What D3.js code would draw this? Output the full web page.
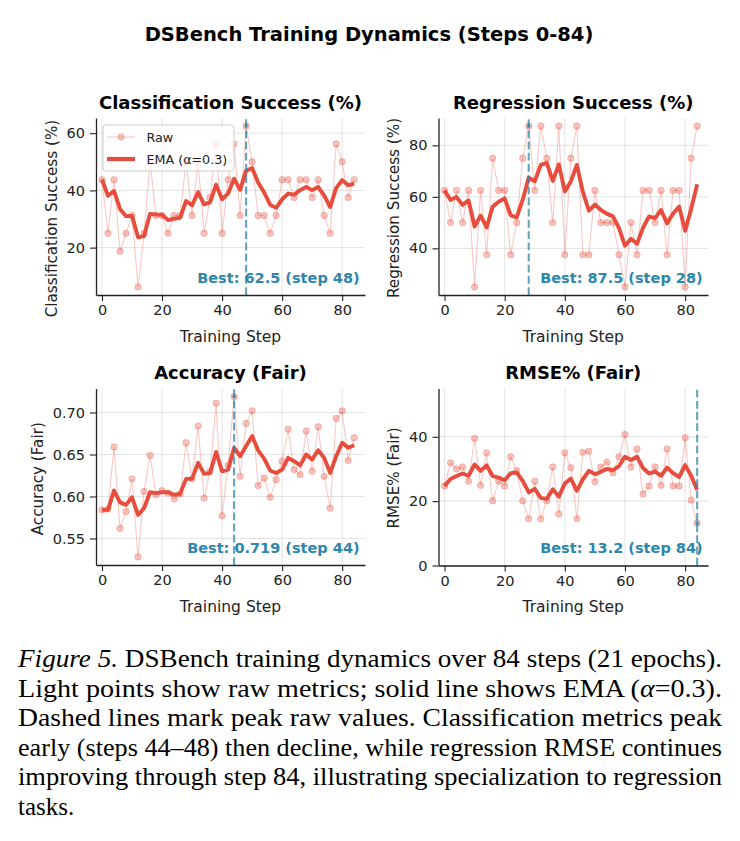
<!DOCTYPE html>
<html>
<head>
<meta charset="utf-8">
<script src="https://cdn.jsdelivr.net/npm/d3@7"></script>
<style>
  body { margin: 0; background: #fff; }
  svg text { font-family: "DejaVu Sans", sans-serif; }
</style>
</head>
<body>
<svg id="fig" width="740" height="841"></svg>
<script>
// ---- data ----
const steps = [0,2,4,6,8,10,12,14,16,18,20,22,24,26,28,30,32,34,36,38,40,42,
               44,46,48,50,52,54,56,58,60,62,64,66,68,70,72,74,76,78,80,82,84];

const clsRaw = [43.75,25,43.75,18.75,25,31.25,6.25,25,50,31.25,31.25,25,31.25,31.25,50,31.25,
                50,25,37.5,56.25,25,43.75,56.25,31.25,62.5,50,31.25,31.25,25,31.25,43.75,43.75,
                37.5,43.75,43.75,37.5,43.75,31.25,25,56.25,50,37.5,43.75];
const clsEma = [43.8,38.1,39.8,33.5,31.0,31.1,23.6,24.0,31.8,31.6,31.5,29.6,30.1,30.4,36.3,34.8,
                39.4,35.1,35.8,42.0,36.9,38.9,44.1,40.2,46.9,47.8,42.8,39.3,35.0,33.9,36.9,38.9,
                38.5,40.1,41.2,40.1,41.2,38.2,34.2,40.8,43.6,41.8,42.4];

const regRaw = [62.5,50,62.5,50,62.5,25,62.5,37.5,75,62.5,62.5,37.5,50,75,87.5,62.5,87.5,75,50,
                87.5,37.5,75,87.5,37.5,37.5,62.5,50,50,50,37.5,25,50,37.5,62.5,62.5,50,62.5,37.5,
                62.5,62.5,25,75,87.5];
const regEma = [62.5,58.8,59.9,56.9,58.6,48.5,52.7,48.1,56.2,58.1,59.4,52.8,52.0,58.9,67.5,66.0,
                72.4,73.2,66.2,72.6,62.1,66.0,72.4,61.9,54.6,57.0,54.9,53.4,52.4,47.9,41.0,43.7,
                41.8,48.0,52.4,51.7,54.9,49.7,53.5,56.2,46.8,55.3,64.9];

const accRaw = [0.584,0.585,0.659,0.562,0.582,0.621,0.528,0.606,0.649,0.602,0.607,0.604,0.597,
                0.603,0.664,0.621,0.684,0.598,0.630,0.711,0.577,0.637,0.719,0.624,0.687,0.702,
                0.613,0.622,0.599,0.620,0.642,0.680,0.632,0.626,0.678,0.630,0.683,0.624,0.586,
                0.693,0.702,0.643,0.670];
const accEma = [0.584,0.584,0.607,0.593,0.590,0.599,0.578,0.586,0.605,0.604,0.605,0.605,0.602,
                0.603,0.621,0.621,0.640,0.627,0.628,0.653,0.630,0.632,0.658,0.648,0.660,0.672,
                0.655,0.645,0.631,0.628,0.632,0.646,0.642,0.637,0.650,0.644,0.655,0.646,0.628,
                0.648,0.664,0.658,0.661];

const rmseRaw = [24.7,31.9,30.0,30.6,26.2,39.5,24.9,35.0,20.1,26.2,24.7,33.8,29.5,20.1,14.5,26.2,
                 14.5,20.1,30.6,16.0,35.0,30.4,14.5,35.2,35.5,26.0,30.6,32.1,28.8,33.8,40.7,30.6,
                 36.2,22.2,24.7,30.6,24.9,36.2,24.7,24.7,39.7,20.3,13.2];
const rmseEma = [24.7,26.9,27.8,28.6,27.9,31.4,29.4,31.1,27.8,27.3,26.5,28.7,28.9,26.3,22.7,23.8,
                 21.0,20.7,23.7,21.4,25.5,27.0,23.2,26.8,29.4,28.4,29.1,30.0,29.6,30.9,33.8,32.8,
                 33.8,30.3,28.6,29.2,27.9,30.4,28.7,27.5,31.2,27.9,23.5];

const panelTitles = ["Classification Success (%)", "Regression Success (%)", "Accuracy (Fair)", "RMSE% (Fair)"];
const yLabels = ["Classification Success (%)", "Regression Success (%)", "Accuracy (Fair)", "RMSE% (Fair)"];
const bestSteps = [48, 28, 44, 84];
const bestLabels = ["62.5", "87.5", "0.719", "13.2"];
const bestValues = [62.5, 87.5, 0.719, 13.2];
const xTicks = [0, 20, 40, 60, 80];
const yTickSets = [[20, 40, 60], [40, 60, 80], [0.55, 0.60, 0.65, 0.70], [0, 20, 40]];
const yDomains = [[3.44, 65.31], [21.875, 90.625], [0.5184, 0.7286], [0, 55]];

const captionLines = [
  [["Figure 5.", true], [" DSBench training dynamics over 84 steps (21 epochs).", false]],
  [["Light points show raw metrics; solid line shows EMA (", false], ["α", true], ["=0.3).", false]],
  [["Dashed lines mark peak raw values. Classification metrics peak", false]],
  [["early (steps 44–48) then decline, while regression RMSE continues", false]],
  [["improving through step 84, illustrating specialization to regression", false]],
  [["tasks.", false]]
];

// ---- drawing ----
const RED = "#E74C3C";
const BLUE = "#2E86AB";
const INK = "#222";

const svg = d3.select("#fig");

svg.append("text")
  .attr("x", 369).attr("y", 41)
  .attr("text-anchor", "middle")
  .attr("font-size", 19.5).attr("font-weight", "bold")
  .attr("fill", "#000")
  .text("DSBench Training Dynamics (Steps 0-84)");

const boxes = [
  {left: 96, right: 365, top: 118, bottom: 295},
  {left: 438.5, right: 708, top: 118, bottom: 295},
  {left: 96, right: 365, top: 388.5, bottom: 565},
  {left: 438.5, right: 708, top: 388.5, bottom: 565.5}
];
const raws = [clsRaw, regRaw, accRaw, rmseRaw];
const emas = [clsEma, regEma, accEma, rmseEma];
const tickFormats = [d3.format("d"), d3.format("d"), d3.format(".2f"), d3.format("d")];
const yLabelShift = [12, 1.5, 2, 1];

function drawPanel(k) {
  const b = boxes[k];
  const w = b.right - b.left, h = b.bottom - b.top;
  const x = d3.scaleLinear().domain([-2, 87.6]).range([b.left, b.right]);
  const y = d3.scaleLinear().domain(yDomains[k]).range([b.bottom, b.top]);
  const g = svg.append("g");

  // grid
  g.append("g").selectAll("line").data(xTicks).join("line")
    .attr("x1", d => x(d)).attr("x2", d => x(d))
    .attr("y1", b.top).attr("y2", b.bottom)
    .attr("stroke", "#b0b0b0").attr("stroke-opacity", 0.35).attr("stroke-width", 1);
  g.append("g").selectAll("line").data(yTickSets[k]).join("line")
    .attr("x1", b.left).attr("x2", b.right)
    .attr("y1", d => y(d)).attr("y2", d => y(d))
    .attr("stroke", "#b0b0b0").attr("stroke-opacity", 0.35).attr("stroke-width", 1);

  const line = d3.line().x((d, i) => x(steps[i])).y(d => y(d));

  // raw series
  g.append("path").datum(raws[k]).attr("d", line)
    .attr("fill", "none").attr("stroke", RED)
    .attr("stroke-opacity", 0.3).attr("stroke-width", 1.1);
  g.append("g").selectAll("circle").data(raws[k]).join("circle")
    .attr("cx", (d, i) => x(steps[i])).attr("cy", d => y(d)).attr("r", 3.2)
    .attr("fill", RED).attr("fill-opacity", 0.32)
    .attr("stroke", RED).attr("stroke-opacity", 0.3).attr("stroke-width", 1);

  // EMA
  g.append("path").datum(emas[k]).attr("d", line)
    .attr("fill", "none").attr("stroke", RED)
    .attr("stroke-width", 3.9).attr("stroke-linejoin", "round").attr("stroke-linecap", "butt");

  // best marker
  const bx = x(bestSteps[k]);
  g.append("line")
    .attr("x1", bx).attr("x2", bx).attr("y1", b.bottom).attr("y2", b.top)
    .attr("stroke", BLUE).attr("stroke-opacity", 0.75).attr("stroke-width", 2.1)
    .attr("stroke-dasharray", "7.8 3.4");
  g.append("path")
    .attr("d", d3.symbol(d3.symbolStar, 9)())
    .attr("transform", `translate(${bx},${y(bestValues[k])})`)
    .attr("fill", BLUE);

  g.append("text")
    .attr("x", b.right - 0.02 * w).attr("y", b.bottom - 0.05 * h - 3.4)
    .attr("text-anchor", "end").attr("font-size", 14.5).attr("font-weight", "bold")
    .attr("fill", BLUE)
    .text(`Best: ${bestLabels[k]} (step ${bestSteps[k]})`);

  // axes
  const xa = g.append("g").attr("transform", `translate(0,${b.bottom})`)
    .call(d3.axisBottom(x).tickValues(xTicks).tickSize(6).tickSizeOuter(0).tickPadding(4));
  const ya = g.append("g").attr("transform", `translate(${b.left},0)`)
    .call(d3.axisLeft(y).tickValues(yTickSets[k]).tickFormat(tickFormats[k])
      .tickSize(6).tickSizeOuter(0).tickPadding(5));
  [xa, ya].forEach(a => {
    a.attr("color", INK);
    a.select(".domain").attr("stroke-width", 1.3);
    a.selectAll(".tick line").attr("stroke-width", 1.1);
    a.selectAll("text").attr("font-size", 14.5).attr("font-family", "DejaVu Sans");
  });

  // titles and labels
  g.append("text")
    .attr("x", (b.left + b.right) / 2).attr("y", b.top - 9.5)
    .attr("text-anchor", "middle").attr("font-size", 18).attr("font-weight", "bold")
    .attr("fill", "#000").text(panelTitles[k]);
  g.append("text")
    .attr("x", (b.left + b.right) / 2).attr("y", b.bottom + 46.5)
    .attr("text-anchor", "middle").attr("font-size", 15.5)
    .attr("fill", INK).text("Training Step");
  // y label sits left of the tick labels (bbox is in the axis group's own coords)
  let minX = 0;
  ya.selectAll(".tick text").each(function () {
    minX = Math.min(minX, this.getBBox().x);
  });
  const lx = b.left + minX - 10;
  g.append("text")
    .attr("transform", `translate(${lx},${(b.top + b.bottom) / 2 + yLabelShift[k]}) rotate(-90)`)
    .attr("text-anchor", "middle").attr("font-size", 15.2)
    .attr("fill", INK).text(yLabels[k]);
}

[0, 1, 2, 3].forEach(drawPanel);

// legend (first panel)
const leg = svg.append("g");
leg.append("rect")
  .attr("x", 103).attr("y", 125).attr("width", 131).attr("height", 46).attr("rx", 3)
  .attr("fill", "#fff").attr("fill-opacity", 0.8)
  .attr("stroke", "#ccc").attr("stroke-width", 1);
leg.append("line").attr("x1", 107).attr("x2", 135).attr("y1", 137).attr("y2", 137)
  .attr("stroke", RED).attr("stroke-opacity", 0.3).attr("stroke-width", 1.1);
leg.append("circle").attr("cx", 121).attr("cy", 137).attr("r", 3.2)
  .attr("fill", RED).attr("fill-opacity", 0.32)
  .attr("stroke", RED).attr("stroke-opacity", 0.3);
leg.append("line").attr("x1", 107).attr("x2", 135).attr("y1", 159).attr("y2", 159)
  .attr("stroke", RED).attr("stroke-width", 4.2);
leg.append("text").attr("x", 146.5).attr("y", 141.5).attr("font-size", 12.7)
  .attr("fill", INK).text("Raw");
leg.append("text").attr("x", 146.5).attr("y", 163.5).attr("font-size", 12.7)
  .attr("fill", INK).text("EMA (α=0.3)");

// caption
const capY = [667, 696.5, 726, 755.5, 785, 814.5];
captionLines.forEach((parts, i) => {
  const t = svg.append("text")
    .attr("x", 18).attr("y", capY[i])
    .attr("font-size", 25)
    .style("font-family", "'Liberation Serif', 'Times New Roman', serif")
    .attr("fill", "#000");
  if (i < captionLines.length - 1) {
    t.attr("textLength", 704).attr("lengthAdjust", "spacingAndGlyphs");
  }
  parts.forEach(([s, it]) => {
    t.append("tspan").attr("font-style", it ? "italic" : "normal").text(s);
  });
});
</script>
</body>
</html>
